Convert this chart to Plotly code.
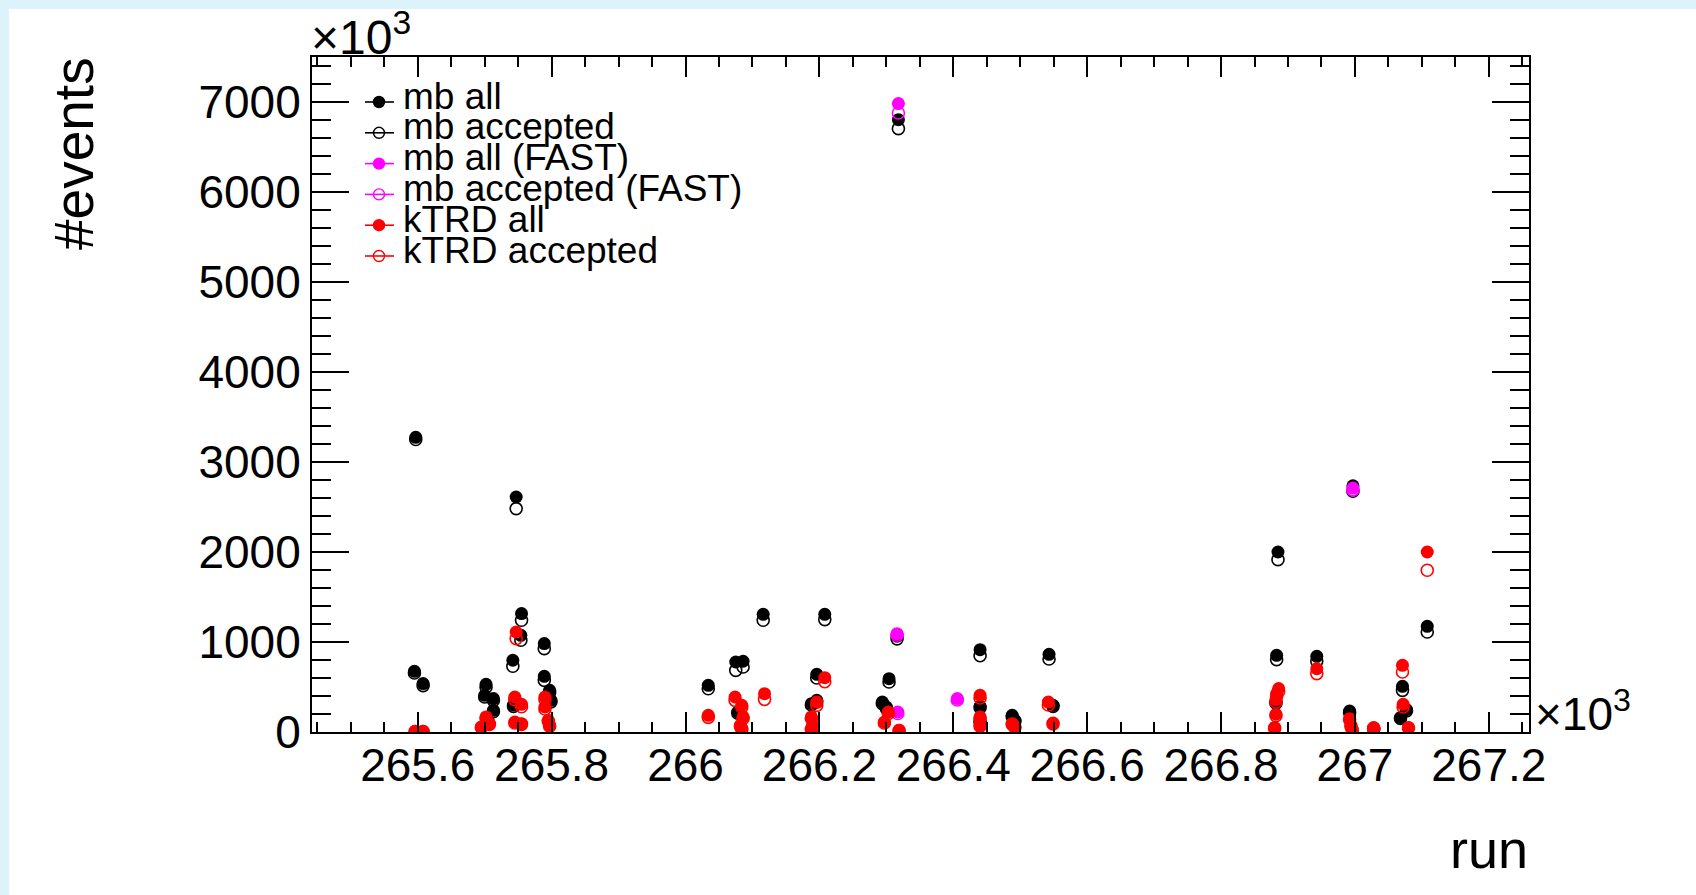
import plotly.graph_objects as go

# ---------------- data (run number, events in thousands) ----------------
mb_all_run = [265597, 265595, 265608, 265702, 265700, 265713, 265713, 265705, 265742, 265755,
              265754, 265747, 265789, 265789, 265797, 265799, 265743, 266034, 266075, 266086,
              266078, 266116, 266196, 266188, 266196, 266208, 266304, 266294, 266300, 266316,
              266318, 266440, 266440, 266440, 266488, 266492, 266543, 266549, 266885, 266883,
              266882, 266943, 266997, 266992, 267028, 267071, 267077, 267068, 267108]
mb_all_kev = [3274, 674, 538, 530, 408, 371, 241, 120, 797, 1316,
              1074, 2611, 982, 619, 463, 352, 300, 519, 778, 786,
              222, 1308, 641, 315, 352, 1308, 593, 333, 278, 1065,
              6804, 915, 285, 120, 185, 130, 863, 296, 2000, 852,
              333, 841, 2735, 233, 40, 508, 249, 160, 1174]

mb_acc_run = mb_all_run
mb_acc_kev = [3250, 655, 515, 500, 389, 350, 225, 110, 730, 1241,
              1019, 2482, 926, 574, 440, 335, 285, 480, 685, 722,
              210, 1241, 600, 300, 335, 1249, 556, 315, 260, 1035,
              6704, 848, 270, 110, 170, 120, 811, 285, 1915, 804,
              320, 789, 2675, 215, 35, 463, 235, 150, 1111]

fast_all_run = [266318, 266316, 266317, 266406, 266997]
fast_all_kev = [6982, 1093, 222, 371, 2710]
fast_acc_run = [266318, 266316, 266317, 266406, 266997]
fast_acc_kev = [6878, 1075, 205, 355, 2690]

ktrd_all_run = [265596, 265608, 265702, 265707, 265695, 265747, 265745, 265755, 265745, 265755,
                265790, 265790, 265795, 265797, 266034, 266074, 266084, 266086, 266082, 266084,
                266118, 266208, 266196, 266188, 266190, 266188, 266303, 266297, 266319, 266440,
                266440, 266440, 266488, 266492, 266542, 266549, 266886, 266883, 266882, 266882,
                266880, 266943, 266992, 266994, 266996, 267028, 267071, 267072, 267080, 267108]
ktrd_all_kev = [8, 8, 167, 93, 56, 1111, 389, 308, 111, 93,
                389, 278, 130, 74, 185, 389, 296, 167, 74, 37,
                426, 604, 333, 167, 74, 37, 222, 111, 19, 408,
                167, 74, 93, 56, 333, 100, 482, 426, 360, 197,
                49, 704, 148, 74, 27, 49, 741, 308, 49, 2000]
ktrd_acc_run = ktrd_all_run
ktrd_acc_kev = [5, 5, 150, 85, 50, 1038, 360, 280, 100, 85,
                360, 255, 120, 65, 163, 352, 275, 150, 65, 30,
                363, 559, 296, 150, 65, 30, 205, 100, 15, 378,
                150, 65, 85, 50, 300, 90, 450, 400, 333, 180,
                40, 649, 135, 65, 22, 40, 667, 278, 45, 1797]

series = [
    ("mb all", mb_all_run, mb_all_kev, "black", True),
    ("mb accepted", mb_acc_run, mb_acc_kev, "black", False),
    ("mb all (FAST)", fast_all_run, fast_all_kev, "#ff00ff", True),
    ("mb accepted (FAST)", fast_acc_run, fast_acc_kev, "#ff00ff", False),
    ("kTRD all", ktrd_all_run, ktrd_all_kev, "#ff0000", True),
    ("kTRD accepted", ktrd_acc_run, ktrd_acc_kev, "#ff0000", False),
]

x_range = [265.442, 267.26]
y_range = [0, 7500]

# ---------------- layout geometry (pixels) ----------------
W, H = 1696, 895
L, R, T, B = 312, 1529, 57, 732
FONT = "Liberation Sans, Arial, Helvetica, sans-serif"


def px(x):
    return (x - L) / (R - L)


def py(y):
    return (B - y) / (B - T)


fig = go.Figure()
for name, runs, kev, color, filled in series:
    fig.add_trace(go.Scatter(
        x=[r / 1000 for r in runs], y=kev, mode="markers", name=name,
        marker=dict(symbol="circle" if filled else "circle-open", size=13 if filled else 12,
                    color=color, line=dict(width=0 if filled else 1.6, color=color)),
        hoverinfo="x+y+name"))

shapes = [dict(type="rect", xref="paper", yref="paper", x0=px(9), x1=px(W + 5),
               y0=py(H + 5), y1=py(9), fillcolor="white", line=dict(width=0), layer="below")]
annotations = []

# manual legend (tight ROOT-style spacing)
for i, (name, runs, kev, color, filled) in enumerate(series):
    yc = 102 + 30.8 * i
    shapes.append(dict(type="line", xref="paper", yref="paper", x0=px(365), x1=px(394),
                       y0=py(yc), y1=py(yc), line=dict(color=color, width=1.6)))
    r = 5.5
    shapes.append(dict(type="circle", xref="paper", yref="paper", x0=px(379 - r), x1=px(379 + r),
                       y0=py(yc + r), y1=py(yc - r),
                       fillcolor=color if filled else "rgba(0,0,0,0)",
                       line=dict(color=color, width=1.4)))
    annotations.append(dict(xref="paper", yref="paper", x=px(401), y=py(yc - 6), text=name,
                            showarrow=False, xanchor="left", yanchor="middle",
                            font=dict(family=FONT, size=37, color="black")))

# axis titles and exponent labels
annotations += [
    dict(xref="paper", yref="paper", x=px(74), y=py(154), text="#events", textangle=-90,
         showarrow=False, xanchor="center", yanchor="middle", font=dict(family=FONT, size=55)),
    dict(xref="paper", yref="paper", x=px(1530), y=py(849), text="run",
         showarrow=False, xanchor="right", yanchor="middle", font=dict(family=FONT, size=54)),
    dict(xref="paper", yref="paper", x=px(309), y=py(34), text="×10<sup>3</sup>",
         showarrow=False, xanchor="left", yanchor="middle", font=dict(family=FONT, size=48)),
    dict(xref="paper", yref="paper", x=px(1533), y=py(711), text="×10<sup>3</sup>",
         showarrow=False, xanchor="left", yanchor="middle", font=dict(family=FONT, size=46)),
]

axis_common = dict(ticks="inside", tickwidth=1.5, tickcolor="black", showline=True, linewidth=2,
                   linecolor="black", mirror="ticks", showgrid=False, zeroline=False,
                   tickfont=dict(family=FONT, size=46, color="black"))

fig.update_layout(
    width=W, height=H,
    margin=dict(l=L, r=W - R, t=T, b=H - B, pad=0),
    paper_bgcolor="#dcf3fc", plot_bgcolor="rgba(0,0,0,0)",
    showlegend=False,
    font=dict(family=FONT, color="black"),
    xaxis=dict(range=x_range, dtick=0.2, tick0=0, ticklen=20, ticklabelstandoff=-8,
               minor=dict(dtick=0.05, ticks="inside", ticklen=10, tickcolor="black",
                          tickwidth=1.5, showgrid=False),
               **axis_common),
    yaxis=dict(range=y_range, dtick=1000, tick0=0, ticklen=37, tickformat="d",
               minor=dict(dtick=200, ticks="inside", ticklen=19, tickcolor="black",
                          tickwidth=1.5, showgrid=False),
               **axis_common),
    shapes=shapes, annotations=annotations,
)

fig.write_html("out.html")
